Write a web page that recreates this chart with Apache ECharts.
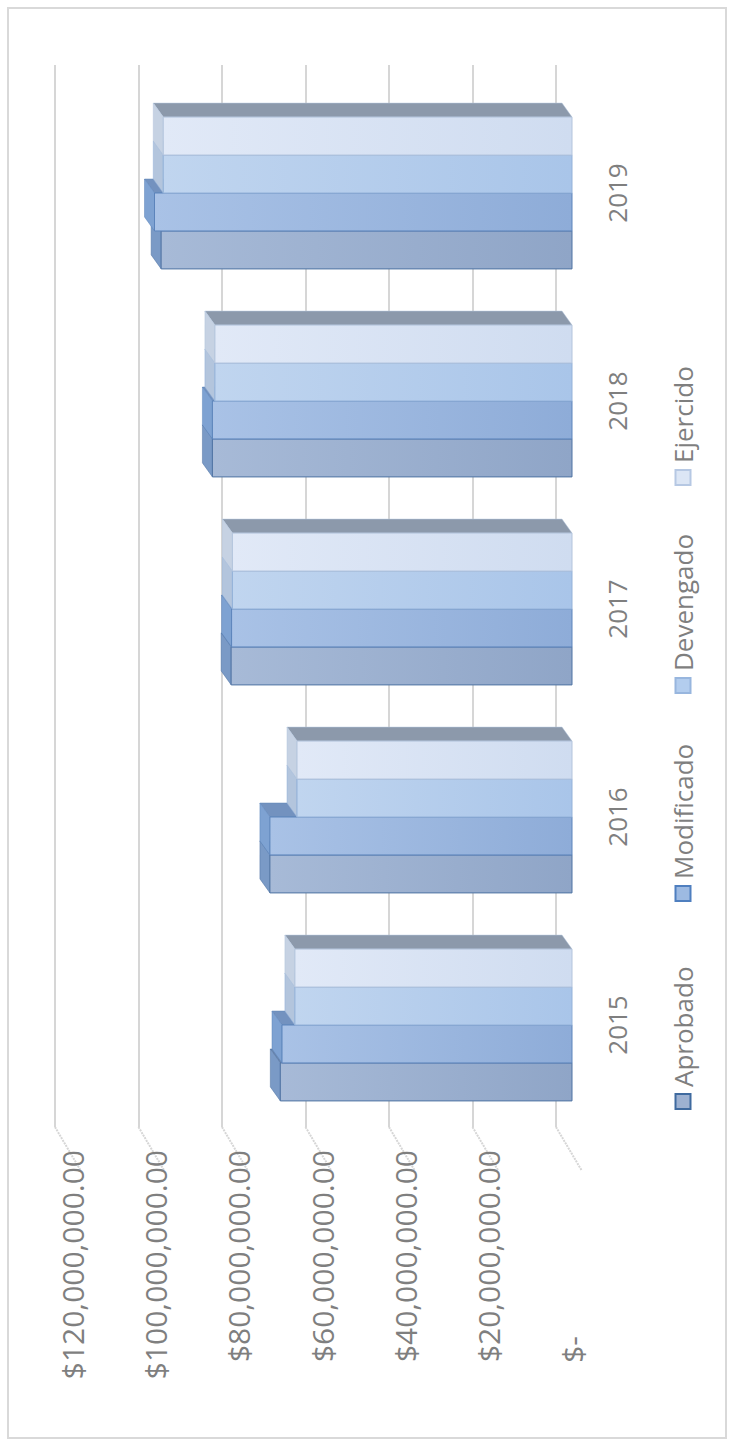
<!DOCTYPE html>
<html>
<head>
<meta charset="utf-8">
<script src="https://cdn.jsdelivr.net/npm/echarts@6/dist/echarts.min.js"></script>
<style>
    html, body { margin: 0; padding: 0; background: #fff; overflow: hidden; }
    #frame {
        position: absolute; left: 7px; top: 7px; width: 720px; height: 1432px;
        border: 2px solid #d9d9d9; box-sizing: border-box;
    }
    /* the chart is drawn lying down and turned a quarter to the left */
    #chart {
        position: absolute; left: 0; top: 0; width: 1447px; height: 735px;
        transform-origin: 0 0; transform: translateY(1447px) rotate(-90deg);
    }
</style>
</head>
<body>
<div id="frame"></div>
<div id="chart"></div>
<script>
var years = ['2015', '2016', '2017', '2018', '2019'];
var seriesNames = ['Aprobado', 'Modificado', 'Devengado', 'Ejercido'];
var aprobado = [70000000, 72500000, 81800000, 86300000, 98600000];
var modificado = [69600000, 72500000, 81700000, 86300000, 100200000];
var devengado = [66500000, 66000000, 81500000, 85700000, 98100000];
var ejercido = [66500000, 66000000, 81500000, 85700000, 98100000];
var valueTicks = [0, 20000000, 40000000, 60000000, 80000000, 100000000, 120000000];

var fontName = '"Open Sans", "Noto Sans", sans-serif';
var catGap = 0.27;    // hueco entre grupos
var depthX = 14;      // profundidad 3D
var depthY = -10;

// colores de cada serie: frente (arriba/abajo), tapa, lado, borde
var barStyles = [
    { c1: '#a7bad7', c2: '#8fa5c7', top: '#7a9ac6', side: '#6d87ad', edge: '#4f73a3', mark: '#9db1d1', markEdge: '#3f6a9f' },
    { c1: '#a9c2e6', c2: '#8eacd8', top: '#7ea2d2', side: '#7392bf', edge: '#5c84bb', mark: '#9dbae2', markEdge: '#4f7fbf' },
    { c1: '#c0d5ef', c2: '#a9c5e9', top: '#b3c5dd', side: '#98abc6', edge: '#93b1d8', mark: '#b3cdee', markEdge: '#98b6de' },
    { c1: '#e1e9f7', c2: '#cfdcf0', top: '#c6d2e3', side: '#8c99ab', edge: '#b3c4dc', mark: '#dce6f5', markEdge: '#b6c8e3' }
];

function money(v) {
    if (v === 0) return '{z|$-}';
    return '$' + v.toLocaleString('en-US') + '.00';
}

function renderBar(params, api) {
    var s = params.seriesIndex;
    var c = api.value(0);
    var v = api.value(1);
    var base = api.coord([c, 0]);
    var end = api.coord([c, v]);
    var band = api.size([1, 0])[0];
    var w = band * (1 - catGap) / 4;
    var x = base[0] - 2 * w + s * w;
    var yTop = end[1];
    var yBot = base[1];
    var st = barStyles[s];
    return {
        type: 'group',
        children: [
            {
                type: 'polygon',
                shape: { points: [[x + w, yTop], [x + w, yBot], [x + w + depthX, yBot + depthY], [x + w + depthX, yTop + depthY]] },
                style: { fill: st.side, stroke: st.edge, lineWidth: 0.5 }
            },
            {
                type: 'polygon',
                shape: { points: [[x, yTop], [x + w, yTop], [x + w + depthX, yTop + depthY], [x + depthX, yTop + depthY]] },
                style: { fill: st.top, stroke: st.edge, lineWidth: 0.5 }
            },
            {
                type: 'rect',
                shape: { x: x, y: yTop, width: w, height: yBot - yTop },
                style: {
                    fill: new echarts.graphic.LinearGradient(0, 0, 0, 1, [
                        { offset: 0, color: st.c1 },
                        { offset: 1, color: st.c2 }
                    ]),
                    stroke: st.edge,
                    lineWidth: 1
                }
            }
        ]
    };
}

function makeSeries(name, values, i) {
    return {
        name: name,
        type: 'custom',
        xAxisIndex: 1,
        yAxisIndex: 1,
        renderItem: renderBar,
        itemStyle: { color: barStyles[i].mark },
        data: values.map(function (v, k) { return [k, v]; })
    };
}

// una leyenda por serie, repartidas a paso fijo como en Excel
function makeLegend(name, i) {
    return {
        left: 332 + i * 208,
        top: 665,
        itemWidth: 15,
        itemHeight: 15,
        icon: 'rect',
        textStyle: { fontSize: 26, color: '#7f7f7f', padding: [0, 0, 0, 2] },
        data: [{
            name: name,
            itemStyle: { color: barStyles[i].mark, borderColor: barStyles[i].markEdge, borderWidth: 2 }
        }]
    };
}

var chart = echarts.init(document.getElementById('chart'), null, { renderer: 'svg' });

var option = {
    animation: false,
    textStyle: { fontFamily: fontName },
    legend: seriesNames.map(makeLegend),
    grid: [
        // pared del fondo (lineas de division)
        { left: 320, right: 65, top: 55, bottom: 179 },
        // plano frontal (barras y etiquetas)
        { left: 318, right: 89, top: 72, bottom: 163 }
    ],
    xAxis: [
        { gridIndex: 0, type: 'category', data: years, show: false },
        {
            gridIndex: 1, type: 'category', data: years,
            axisLine: { show: false }, axisTick: { show: false },
            axisLabel: { margin: 32, fontSize: 26, color: '#7f7f7f' }
        }
    ],
    yAxis: [
        {
            gridIndex: 0, type: 'value', min: 0, max: 120000000, interval: 20000000,
            axisLabel: { show: false }, axisLine: { show: false }, axisTick: { show: false },
            splitLine: { lineStyle: { color: '#d6d6d6', width: 2 } }
        },
        {
            gridIndex: 1, type: 'value', min: 0, max: 120000000, interval: 20000000,
            axisLine: { show: false }, axisTick: { show: false }, splitLine: { show: false },
            axisLabel: {
                margin: 21, fontSize: 30, color: '#7f7f7f', formatter: money,
                rich: { z: { fontSize: 30, color: '#7f7f7f', padding: [0, 186, 0, 0] } }
            }
        }
    ],
    series: [
        makeSeries(seriesNames[0], aprobado, 0),
        makeSeries(seriesNames[1], modificado, 1),
        makeSeries(seriesNames[2], devengado, 2),
        makeSeries(seriesNames[3], ejercido, 3)
    ]
};
chart.setOption(option);

// lineas del piso lateral, una por cada marca del eje de valores
var floorLines = valueTicks.map(function (t) {
    var p = chart.convertToPixel({ gridIndex: 0 }, [0, t]);
    var x0 = 320;
    return {
        type: 'line',
        shape: { x1: x0, y1: p[1], x2: x0 - 44, y2: p[1] + 26 },
        style: { stroke: '#d6d6d6', lineWidth: 2, lineDash: [2, 1] },
        silent: true
    };
});
chart.setOption({ graphic: floorLines });
</script>
</body>
</html>
